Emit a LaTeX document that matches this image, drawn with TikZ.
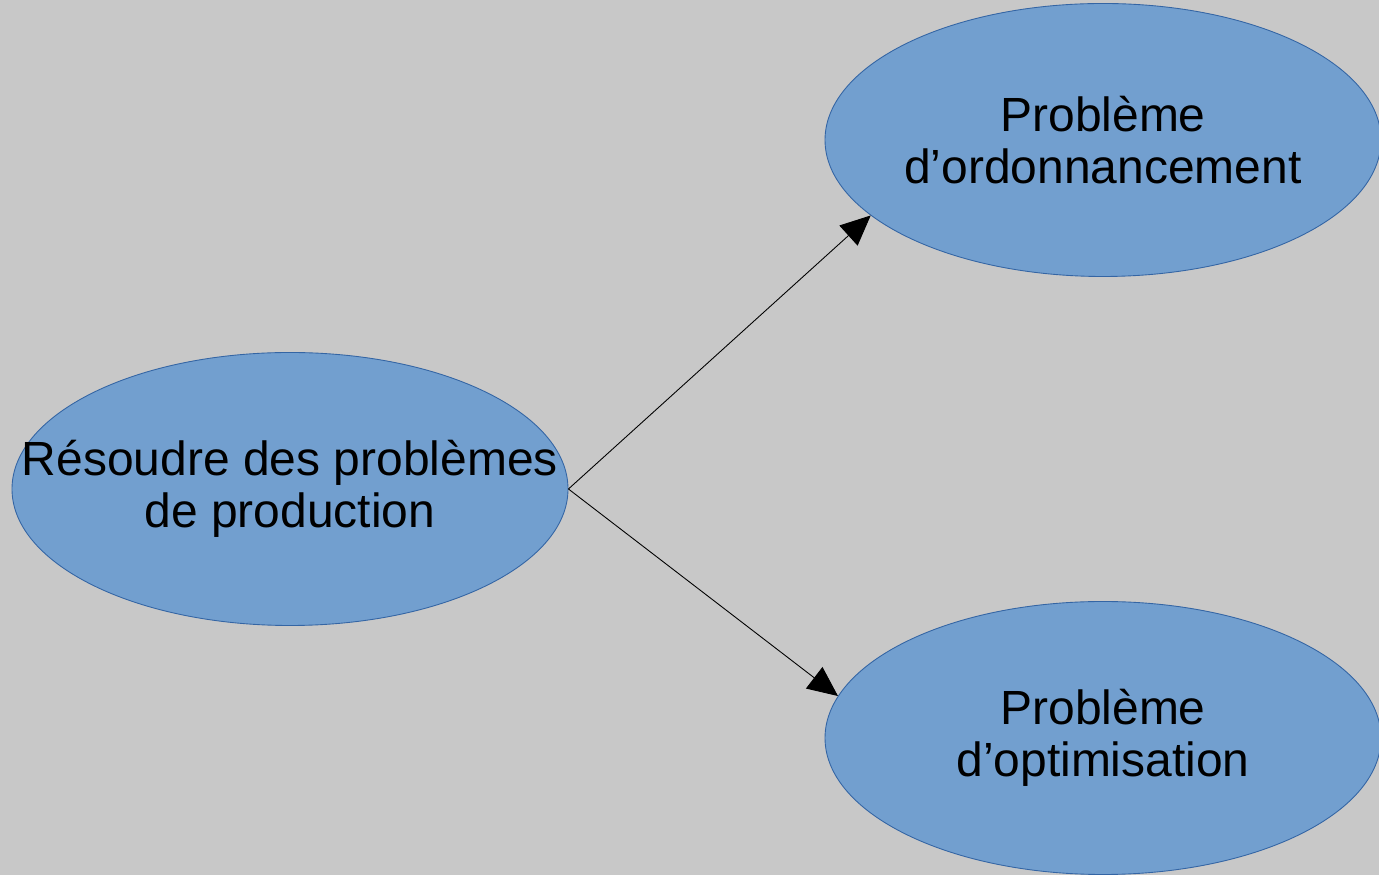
\documentclass[tikz,border=0pt]{standalone}
\usepackage{fontspec}
\setmainfont{Liberation Sans}
\usetikzlibrary{
    arrows.meta,
    positioning,
    shapes.geometric
}
\definecolor{loBlue}{HTML}{729FCF}
\definecolor{loEdge}{HTML}{3465A4}
\definecolor{loGrey}{RGB}{200,200,200}
\tikzset{
  oval/.style = {ellipse, draw=loEdge, fill=loBlue, line width=0.5pt,
                 minimum width=11.12cm, minimum height=5.46cm,
                 inner sep=0pt},
  txt/.style  = {align=center, inner sep=0pt,
                 font=\fontsize{27.3}{29.6}\selectfont},
  arr/.style  = {-{Triangle[length=0.6cm, width=0.54cm]}, line width=0.5pt, black}
}

\begin{document}
\begin{tikzpicture}
    \fill[loGrey] (0,0) rectangle (27.58,17.5);
    \useasboundingbox (0,0) rectangle (27.58,17.5);

    \node[oval, label={[txt]center:Résoudre des problèmes\\de production}]
        (prod) at (5.80,7.72) {};
    \node[oval, label={[txt]center:Problème\\d’ordonnancement}]
        (ordo) at (22.06,14.70) {};
    \node[oval, label={[txt]center:Problème\\d’optimisation}]
        (optim) at (22.06,2.74) {};

    \draw[arr] (prod.east) -- (ordo.198.3);
    \draw[arr] (prod.east) -- (optim.171.2);
\end{tikzpicture}
\end{document}
